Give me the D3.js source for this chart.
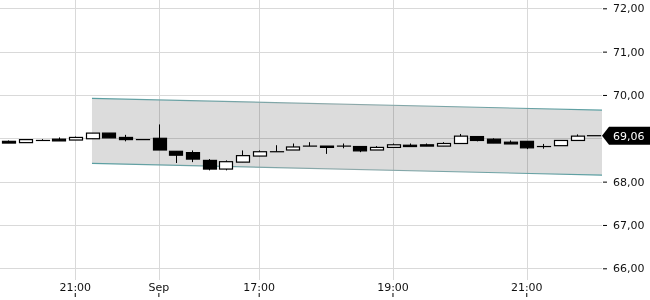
<!DOCTYPE html>
<html>
<head>
<meta charset="utf-8">
<script src="https://cdn.jsdelivr.net/npm/d3@7"></script>
<style>
  body { margin: 0; background: #fff; }
  svg { display: block; font-family: "DejaVu Sans", sans-serif; }
</style>
</head>
<body>
<svg id="chart" width="650" height="300"></svg>
<script>
// 15 minute candles, previous evening then the 1 Sep session
var times = ['20:00', '20:15', '20:30', '20:45', '21:00', '21:15', '21:30', '21:45', '22:00',
  '15:30', '15:45', '16:00', '16:15', '16:30', '16:45', '17:00', '17:15', '17:30', '17:45',
  '18:00', '18:15', '18:30', '18:45', '19:00', '19:15', '19:30', '19:45', '20:00', '20:15',
  '20:30', '20:45', '21:00', '21:15', '21:30', '21:45', '22:00']

var open = [68.93, 68.90, 68.95, 68.98, 68.96, 68.99, 69.12, 69.02, 68.97, 69.00, 68.70, 68.67,
  68.49, 68.29, 68.45, 68.59, 68.69, 68.73, 68.82, 68.82, 68.82, 68.81, 68.73, 68.79, 68.84,
  68.85, 68.82, 68.88, 69.04, 68.98, 68.91, 68.93, 68.81, 68.83, 68.95, 69.06]
var high = [68.95, 68.97, 68.98, 69.02, 69.04, 69.12, 69.12, 69.08, 68.97, 69.32, 68.70, 68.72,
  68.52, 68.49, 68.72, 68.72, 68.84, 68.88, 68.91, 68.82, 68.88, 68.81, 68.82, 68.88, 68.88,
  68.88, 68.91, 69.10, 69.04, 69.00, 68.95, 68.93, 68.87, 68.95, 69.09, 69.06]
var low = [68.89, 68.90, 68.95, 68.94, 68.96, 68.99, 69.01, 68.93, 68.97, 68.73, 68.43, 68.45,
  68.26, 68.26, 68.45, 68.59, 68.69, 68.73, 68.82, 68.64, 68.77, 68.68, 68.73, 68.79, 68.81,
  68.82, 68.82, 68.88, 68.93, 68.89, 68.87, 68.75, 68.76, 68.83, 68.95, 69.06]
var close = [68.89, 68.97, 68.95, 68.94, 69.02, 69.12, 69.01, 68.97, 68.97, 68.73, 68.61, 68.52,
  68.29, 68.46, 68.60, 68.69, 68.69, 68.80, 68.82, 68.79, 68.82, 68.71, 68.79, 68.85, 68.81,
  68.82, 68.88, 69.05, 68.95, 68.89, 68.87, 68.78, 68.81, 68.95, 69.05, 69.06]

// x tick positions (candle index) and their labels
var tickIndex = [4, 9, 15, 23, 31]
var tickLabels = ['21:00', 'Sep', '17:00', '19:00', '21:00']
var priceTicks = [66, 67, 68, 69, 70, 71, 72]

// regression channel: from candle 5 to the right edge
var channelStart = 5
var channelUpper = [69.92, 69.65]
var channelLower = [68.42, 68.15]
var lastPrice = 69.06

var svg = d3.select('#chart')
var plotRight = 602

var x = d3.scaleBand()
  .domain(d3.range(times.length))
  .range([0, plotRight])
  .paddingInner(0.25)
  .paddingOuter(0.125)
function cx(i) { return x(i) + x.bandwidth() / 2 }

var y = d3.scaleLinear().domain([66, 72]).range([268.3, 8.3])
var fmt = function(v) { return d3.format('.2f')(v).replace('.', ',') }

// channel
var x0 = cx(channelStart), x1 = plotRight
svg.append('path')
  .attr('d', 'M' + x0 + ',' + y(channelUpper[0]) + 'L' + x1 + ',' + y(channelUpper[1]) +
    'L' + x1 + ',' + y(channelLower[1]) + 'L' + x0 + ',' + y(channelLower[0]) + 'Z')
  .attr('fill', '#dcdcdc')

// grid
var grid = svg.append('g').attr('stroke', '#d9d9d9').attr('stroke-width', 1)
  .style('mix-blend-mode', 'multiply')
grid.selectAll('line.h').data(priceTicks).enter().append('line')
  .attr('x1', 0).attr('x2', plotRight)
  .attr('y1', function(d) { return Math.round(y(d)) + 0.5 })
  .attr('y2', function(d) { return Math.round(y(d)) + 0.5 })
grid.selectAll('line.v').data(tickIndex).enter().append('line')
  .attr('y1', 0).attr('y2', 280)
  .attr('x1', function(d) { return Math.round(cx(d)) + 0.5 })
  .attr('x2', function(d) { return Math.round(cx(d)) + 0.5 })

var defs = svg.append('defs')
var grad = defs.append('linearGradient').attr('id', 'edge')
  .attr('gradientUnits', 'userSpaceOnUse')
  .attr('x1', x0).attr('x2', x1).attr('y1', 0).attr('y2', 0)
grad.append('stop').attr('offset', '0%').attr('stop-color', '#5a9fa2')
grad.append('stop').attr('offset', '50%').attr('stop-color', '#8fa9aa')
grad.append('stop').attr('offset', '100%').attr('stop-color', '#5a9fa2')

;[channelUpper, channelLower].forEach(function(c) {
  svg.append('line')
    .attr('x1', x0).attr('y1', y(c[0]))
    .attr('x2', x1).attr('y2', y(c[1]))
    .attr('stroke', 'url(#edge)').attr('stroke-width', 1.2)
})

// candles
var candles = svg.append('g').selectAll('g')
  .data(d3.range(times.length))
  .enter().append('g')

candles.append('line')
  .attr('x1', function(i) { return Math.round(cx(i)) + 0.5 })
  .attr('x2', function(i) { return Math.round(cx(i)) + 0.5 })
  .attr('y1', function(i) { return y(high[i]) })
  .attr('y2', function(i) { return y(low[i]) })
  .attr('stroke', '#000')

candles.append('rect')
  .attr('x', function(i) { return Math.round(x(i)) + 0.5 })
  .attr('width', Math.round(x.bandwidth()))
  .attr('y', function(i) { return y(Math.max(open[i], close[i])) })
  .attr('height', function(i) { return Math.max(0.01, Math.abs(y(open[i]) - y(close[i]))) })
  .attr('fill', function(i) { return close[i] > open[i] ? '#fff' : '#000' })
  .attr('stroke', '#000')
  .attr('stroke-width', 1.2)

// right price axis; the label next to the last price is covered by the marker
var labelTicks = priceTicks.filter(function(v) { return Math.abs(v - lastPrice) > 0.3 })
var yAxis = svg.append('g')
  .attr('transform', 'translate(603,0)')
  .call(d3.axisRight(y).tickValues(labelTicks).tickSize(4).tickPadding(6).tickFormat(fmt))
yAxis.select('.domain').remove()
yAxis.selectAll('text').attr('font-size', 11).attr('fill', '#111').attr('font-family', '"DejaVu Sans", sans-serif')

// time axis: labels sit above small tick marks
var xAxis = svg.append('g')
  .attr('transform', 'translate(0,297)')
  .call(d3.axisTop(x).tickValues(tickIndex).tickSize(4).tickPadding(2)
    .tickFormat(function(d) { return tickLabels[tickIndex.indexOf(d)] }))
xAxis.select('.domain').remove()
xAxis.selectAll('text').attr('font-size', 11).attr('fill', '#111').attr('font-family', '"DejaVu Sans", sans-serif')

// last price marker
var ly = y(lastPrice)
svg.append('path')
  .attr('d', 'M602,' + ly + 'L609,' + (ly - 9) + 'L650,' + (ly - 9) + 'L650,' + (ly + 9) + 'L609,' + (ly + 9) + 'Z')
  .attr('fill', '#000')
svg.append('text')
  .attr('x', 613).attr('y', ly).attr('dy', '0.36em')
  .attr('font-size', 11).attr('fill', '#fff')
  .text(fmt(lastPrice))
</script>
</body>
</html>
